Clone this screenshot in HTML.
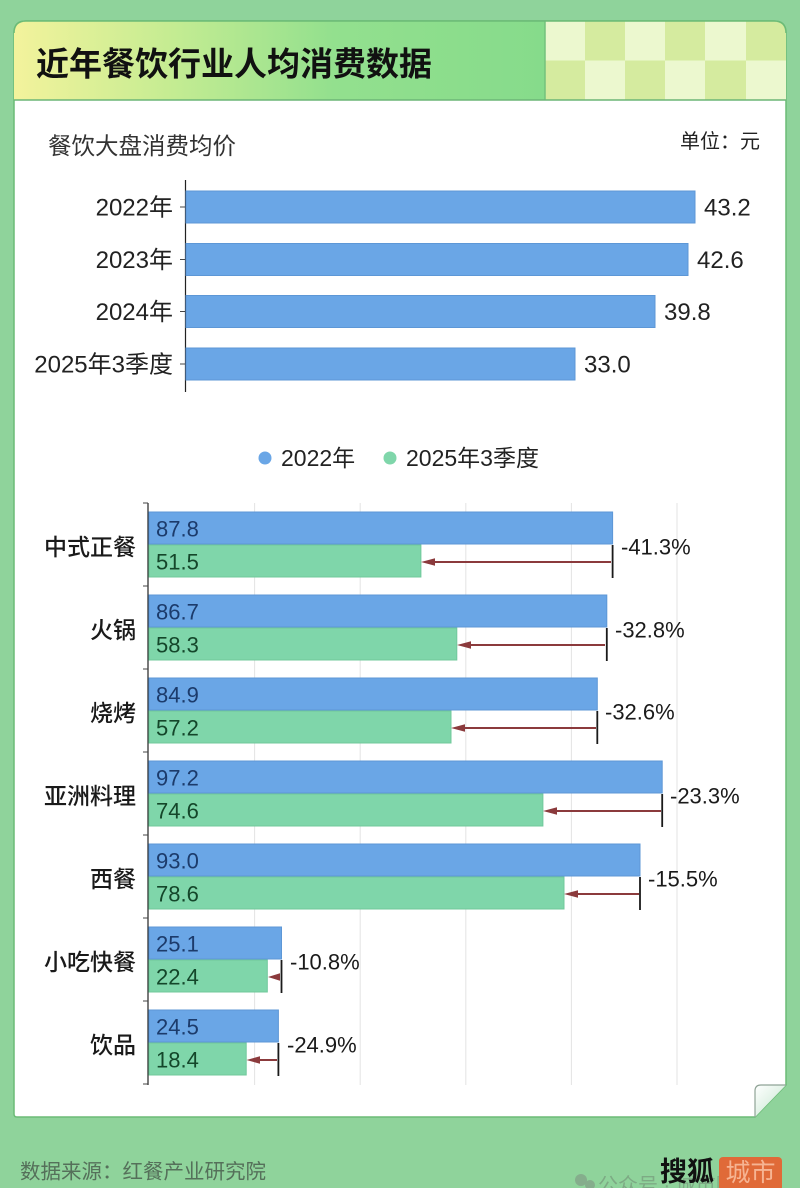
<!DOCTYPE html>
<html><head><meta charset="utf-8"><style>
html,body{margin:0;padding:0;background:#8fd39b;}
svg{display:block;}
text{font-family:"Liberation Sans","Noto Sans CJK SC",sans-serif;}
</style></head><body>
<svg width="800" height="1188" viewBox="0 0 800 1188" xmlns="http://www.w3.org/2000/svg">
<defs>
<linearGradient id="hg" x1="14" y1="0" x2="545" y2="0" gradientUnits="userSpaceOnUse">
<stop offset="0" stop-color="#f3f39c"/>
<stop offset="0.3" stop-color="#c4ec92"/>
<stop offset="0.6" stop-color="#93e08e"/>
<stop offset="1" stop-color="#86db8b"/>
</linearGradient>
<linearGradient id="fg" x1="755" y1="1085" x2="775" y2="1105" gradientUnits="userSpaceOnUse">
<stop offset="0" stop-color="#ffffff"/>
<stop offset="1" stop-color="#d8eedf"/>
</linearGradient>
<clipPath id="cc"><path d="M14,33 Q14,21 26,21 H774 Q786,21 786,33 V100 H14 Z"/></clipPath>
</defs>
<rect width="800" height="1188" fill="#8fd39b"/>
<!-- card -->
<path d="M14,33 Q14,21 26,21 H774 Q786,21 786,33 V1085 L755,1117 H17 Q14,1117 14,1114 Z" fill="#ffffff" stroke="#6cbb77" stroke-width="1.5"/>
<g clip-path="url(#cc)">
<rect x="14" y="21" width="531" height="79" fill="url(#hg)"/>
<rect x="545" y="21" width="241" height="79" fill="#d5eb9f"/>
<rect x="545" y="21" width="40" height="39.5" fill="#ecf8cf"/>
<rect x="625" y="21" width="40" height="39.5" fill="#ecf8cf"/>
<rect x="705" y="21" width="41" height="39.5" fill="#ecf8cf"/>
<rect x="585" y="60.5" width="40" height="39.5" fill="#ecf8cf"/>
<rect x="665" y="60.5" width="40" height="39.5" fill="#ecf8cf"/>
<rect x="746" y="60.5" width="40" height="39.5" fill="#ecf8cf"/>
</g>
<line x1="545" y1="21" x2="545" y2="100" stroke="#74c27c" stroke-width="1.5"/>
<path d="M14,33 Q14,21 26,21 H774 Q786,21 786,33" fill="none" stroke="#6cbb77" stroke-width="1.5"/>
<line x1="14" y1="100" x2="786" y2="100" stroke="#6cb677" stroke-width="1.5"/>
<text x="36" y="64" font-size="33" font-weight="bold" fill="#111" dominant-baseline="central">近年餐饮行业人均消费数据</text>

<!-- fold -->
<path d="M755,1117 V1091 Q755,1085 761,1085 H786 Z" fill="url(#fg)"/>
<path d="M755,1117 V1091 Q755,1085 761,1085 H786" fill="none" stroke="#8fa396" stroke-width="1.2"/>

<!-- top chart -->
<text x="48" y="146" font-size="23.5" fill="#333" dominant-baseline="central">餐饮大盘消费均价</text>
<text x="760" y="142" font-size="20" fill="#222" text-anchor="end" dominant-baseline="central">单位：元</text>
<line x1="185.5" y1="180" x2="185.5" y2="392" stroke="#222" stroke-width="1.2"/>
<g stroke="#444" stroke-width="1">
<line x1="180" y1="207" x2="185" y2="207"/><line x1="180" y1="259.5" x2="185" y2="259.5"/>
<line x1="180" y1="311.5" x2="185" y2="311.5"/><line x1="180" y1="364" x2="185" y2="364"/>
</g>
<g fill="#6aa6e6" stroke="#5d97d6" stroke-width="1">
<rect x="186" y="191" width="509" height="32"/>
<rect x="186" y="243.5" width="502" height="32"/>
<rect x="186" y="295.5" width="469" height="32"/>
<rect x="186" y="348" width="389" height="32"/>
</g>
<g font-size="24" fill="#222" dominant-baseline="central">
<text x="173" y="208" text-anchor="end">2022年</text>
<text x="173" y="260.5" text-anchor="end">2023年</text>
<text x="173" y="312.5" text-anchor="end">2024年</text>
<text x="173" y="365" text-anchor="end">2025年3季度</text>
<text x="704" y="208">43.2</text>
<text x="697" y="260.5">42.6</text>
<text x="664" y="312.5">39.8</text>
<text x="584" y="365">33.0</text>
</g>

<!-- legend -->
<circle cx="265" cy="458" r="6.5" fill="#6aa6e6"/>
<text x="281" y="458" font-size="23" fill="#222" dominant-baseline="central">2022年</text>
<circle cx="390" cy="458" r="6.5" fill="#7fd6aa"/>
<text x="406" y="458" font-size="23" fill="#222" dominant-baseline="central">2025年3季度</text>

<!-- grid -->
<g stroke="#e3e3e3" stroke-width="1">
<line x1="254.6" y1="503" x2="254.6" y2="1085"/>
<line x1="360.2" y1="503" x2="360.2" y2="1085"/>
<line x1="465.8" y1="503" x2="465.8" y2="1085"/>
<line x1="571.4" y1="503" x2="571.4" y2="1085"/>
<line x1="677" y1="503" x2="677" y2="1085"/>
</g>
<line x1="148" y1="503" x2="148" y2="1085" stroke="#222" stroke-width="1.2"/>
<g stroke="#444" stroke-width="1">
<line x1="143" y1="503" x2="148" y2="503"/><line x1="143" y1="586" x2="148" y2="586"/>
<line x1="143" y1="669" x2="148" y2="669"/><line x1="143" y1="752" x2="148" y2="752"/>
<line x1="143" y1="835" x2="148" y2="835"/><line x1="143" y1="918" x2="148" y2="918"/>
<line x1="143" y1="1001" x2="148" y2="1001"/><line x1="143" y1="1084" x2="148" y2="1084"/>
</g>

<!-- bars -->
<g fill="#6aa6e6" stroke="#5d97d6" stroke-width="1">
<rect x="149" y="512" width="463.6" height="32"/>
<rect x="149" y="595" width="457.8" height="32"/>
<rect x="149" y="678" width="448.3" height="32"/>
<rect x="149" y="761" width="513.2" height="32"/>
<rect x="149" y="844" width="491" height="32"/>
<rect x="149" y="927" width="132.5" height="32"/>
<rect x="149" y="1010" width="129.4" height="32"/>
</g>
<g fill="#7fd6aa" stroke="#70c89b" stroke-width="1">
<rect x="149" y="545" width="271.9" height="32"/>
<rect x="149" y="628" width="307.8" height="32"/>
<rect x="149" y="711" width="302" height="32"/>
<rect x="149" y="794" width="393.9" height="32"/>
<rect x="149" y="877" width="415" height="32"/>
<rect x="149" y="960" width="118.3" height="32"/>
<rect x="149" y="1043" width="97.2" height="32"/>
</g>

<!-- value labels -->
<g font-size="22" dominant-baseline="central">
<g fill="#1c3b6b">
<text x="156" y="529">87.8</text><text x="156" y="612">86.7</text><text x="156" y="695">84.9</text>
<text x="156" y="778">97.2</text><text x="156" y="861">93.0</text><text x="156" y="944">25.1</text><text x="156" y="1027">24.5</text>
</g>
<g fill="#14462a">
<text x="156" y="562">51.5</text><text x="156" y="645">58.3</text><text x="156" y="728">57.2</text>
<text x="156" y="811">74.6</text><text x="156" y="894">78.6</text><text x="156" y="977">22.4</text><text x="156" y="1060">18.4</text>
</g>
</g>

<!-- category labels -->
<g font-size="23" font-weight="500" fill="#1a1a1a" text-anchor="end" dominant-baseline="central">
<text x="136" y="547">中式正餐</text>
<text x="136" y="630">火锅</text>
<text x="136" y="713">烧烤</text>
<text x="136" y="796">亚洲料理</text>
<text x="136" y="879">西餐</text>
<text x="136" y="962">小吃快餐</text>
<text x="136" y="1045">饮品</text>
</g>

<!-- change markers -->
<g stroke="#1a1a1a" stroke-width="1.8">
<line x1="612.6" y1="545" x2="612.6" y2="578"/>
<line x1="606.8" y1="628" x2="606.8" y2="661"/>
<line x1="597.3" y1="711" x2="597.3" y2="744"/>
<line x1="662.2" y1="794" x2="662.2" y2="827"/>
<line x1="640" y1="877" x2="640" y2="910"/>
<line x1="281.5" y1="960" x2="281.5" y2="993"/>
<line x1="278.4" y1="1043" x2="278.4" y2="1076"/>
</g>
<g stroke="#8b3a3c" stroke-width="2">
<line x1="611" y1="562" x2="432" y2="562"/>
<line x1="605" y1="645" x2="468" y2="645"/>
<line x1="596" y1="728" x2="462" y2="728"/>
<line x1="661" y1="811" x2="554" y2="811"/>
<line x1="639" y1="894" x2="575" y2="894"/>
<line x1="280" y1="977" x2="278" y2="977"/>
<line x1="277" y1="1060" x2="257" y2="1060"/>
</g>
<g fill="#8b3a3c">
<polygon points="421,562 435,558.2 435,565.8"/>
<polygon points="457,645 471,641.2 471,648.8"/>
<polygon points="451,728 465,724.2 465,731.8"/>
<polygon points="543,811 557,807.2 557,814.8"/>
<polygon points="564,894 578,890.2 578,897.8"/>
<polygon points="268,977 280,973.2 280,980.8"/>
<polygon points="246.5,1060 260,1056.2 260,1063.8"/>
</g>
<g font-size="22" fill="#1a1a1a" dominant-baseline="central">
<text x="621" y="547">-41.3%</text>
<text x="615" y="630">-32.8%</text>
<text x="605" y="712">-32.6%</text>
<text x="670" y="796">-23.3%</text>
<text x="648" y="879">-15.5%</text>
<text x="290" y="962">-10.8%</text>
<text x="287" y="1045">-24.9%</text>
</g>

<!-- footer -->
<text x="20" y="1172" font-size="20.5" fill="#55705a" dominant-baseline="central">数据来源：红餐产业研究院</text>
<g opacity="0.55">
<circle cx="581" cy="1180" r="6" fill="#7d8f80"/>
<circle cx="590" cy="1185" r="5" fill="#7d8f80"/>
<text x="598" y="1186" font-size="20" fill="#6f8a72" dominant-baseline="central">公众号 · 城市财经</text>
</g>
<rect x="719" y="1157" width="63" height="34" rx="4" fill="#e06a38"/>
<text x="750.5" y="1173" font-size="25" fill="#f6b493" text-anchor="middle" dominant-baseline="central">城市</text>
<text x="660" y="1172" font-size="27" font-weight="bold" fill="#111" dominant-baseline="central">搜狐</text>
</svg>
</body></html>
